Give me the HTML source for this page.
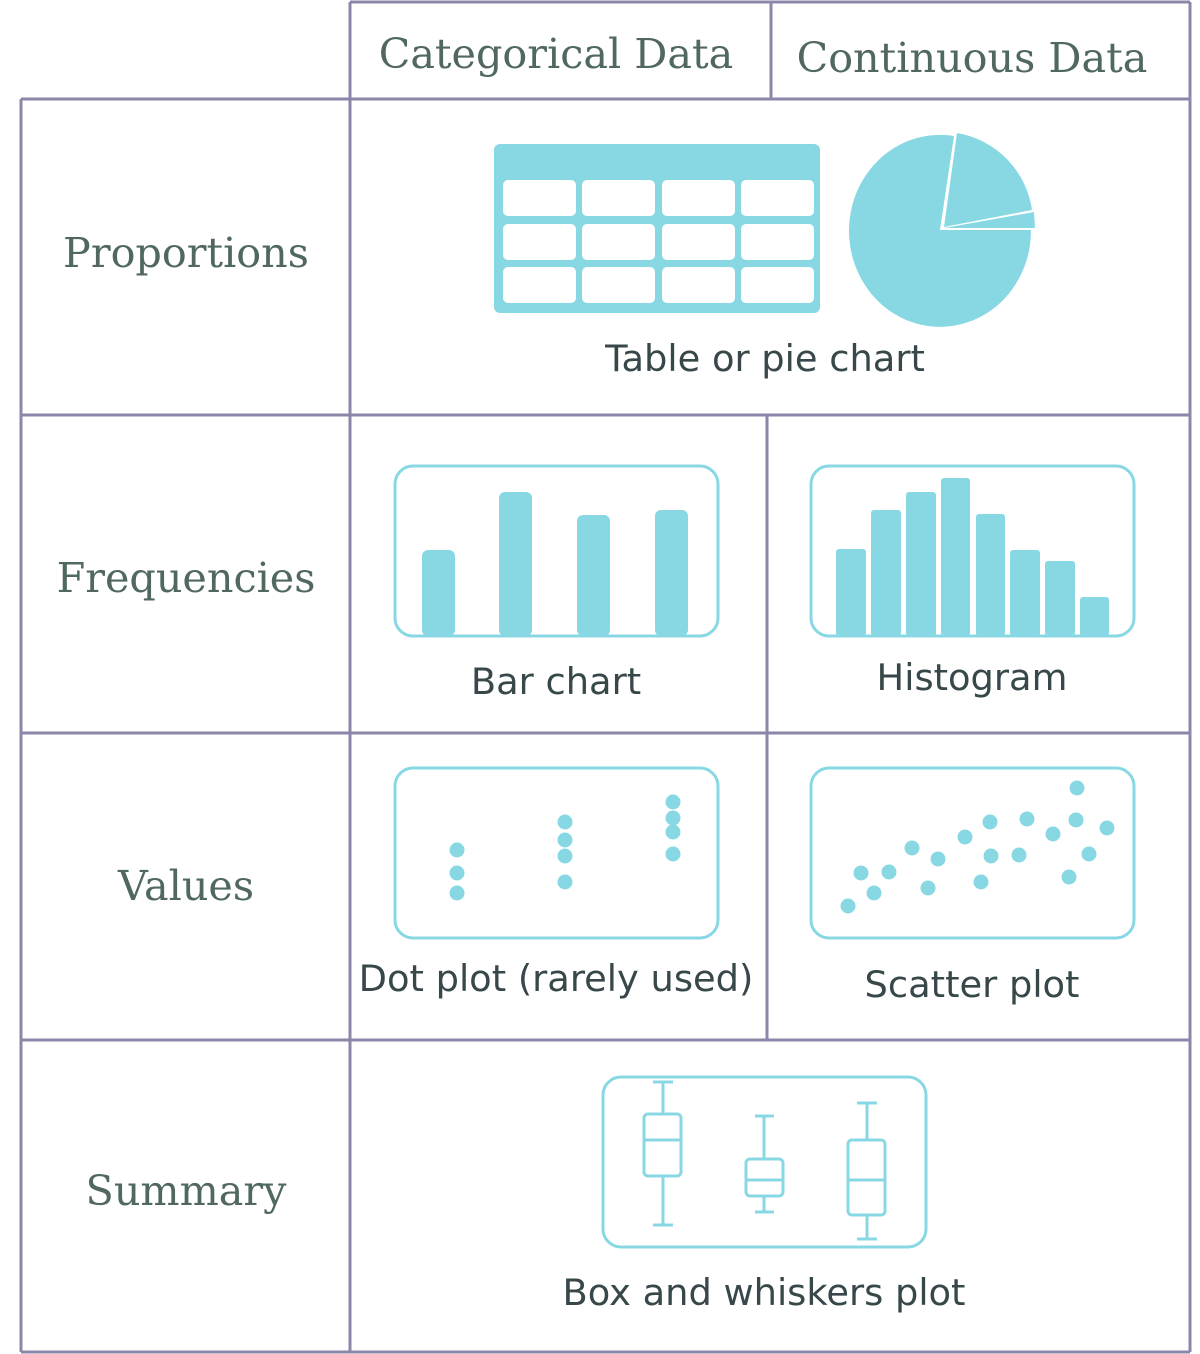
<!DOCTYPE html>
<html><head><meta charset="utf-8"><style>html,body{margin:0;padding:0;background:#fff}svg{display:block}</style></head>
<body>
<svg width="1200" height="1354" viewBox="0 0 1200 1354" xmlns="http://www.w3.org/2000/svg">
<g stroke="#8a87a8" stroke-width="3" fill="none">
<line x1="350" y1="2" x2="1190" y2="2"/>
<line x1="350" y1="2" x2="350" y2="1352"/>
<line x1="771" y1="2" x2="771" y2="99"/>
<line x1="1190" y1="2" x2="1190" y2="1352"/>
<line x1="21" y1="99" x2="21" y2="1352"/>
<line x1="21" y1="99" x2="1190" y2="99"/>
<line x1="21" y1="415" x2="1190" y2="415"/>
<line x1="21" y1="733" x2="1190" y2="733"/>
<line x1="21" y1="1040" x2="1190" y2="1040"/>
<line x1="21" y1="1352" x2="1190" y2="1352"/>
<line x1="767" y1="415" x2="767" y2="1040"/>
</g>
<g font-family="'DejaVu Serif','Liberation Serif',serif" font-size="41.3" fill="#506860" text-anchor="middle">
<text x="556" y="68">Categorical Data</text>
<text x="972" y="72">Continuous Data</text>
<text x="186" y="267">Proportions</text>
<text x="186" y="592">Frequencies</text>
<text x="186" y="900">Values</text>
<text x="186" y="1205">Summary</text>
</g>
<g font-family="'DejaVu Sans','Liberation Sans',sans-serif" font-size="36.8" fill="#37474a" text-anchor="middle">
<text x="765" y="371">Table or pie chart</text>
<text x="556" y="694">Bar chart</text>
<text x="972" y="690">Histogram</text>
<text x="556" y="991">Dot plot (rarely used)</text>
<text x="972" y="997">Scatter plot</text>
<text x="764" y="1305">Box and whiskers plot</text>
</g>
<g fill="#88d8e4">
<rect x="494" y="144" width="326" height="169" rx="6"/>
</g>
<g fill="#fff">
<rect x="503" y="180" width="73" height="36" rx="5"/><rect x="582" y="180" width="73" height="36" rx="5"/><rect x="662" y="180" width="73" height="36" rx="5"/><rect x="741" y="180" width="73" height="36" rx="5"/>
<rect x="503" y="224" width="73" height="36" rx="5"/><rect x="582" y="224" width="73" height="36" rx="5"/><rect x="662" y="224" width="73" height="36" rx="5"/><rect x="741" y="224" width="73" height="36" rx="5"/>
<rect x="503" y="267" width="73" height="36" rx="5"/><rect x="582" y="267" width="73" height="36" rx="5"/><rect x="662" y="267" width="73" height="36" rx="5"/><rect x="741" y="267" width="73" height="36" rx="5"/>
</g>
<g fill="#88d8e4">
<path d="M940,230 L1031,230 A91,96 0 1,1 954,136 Z"/>
<path d="M944,227 L957,133 A91,91 0 0,1 1032,210 Z"/>
<path d="M944,228 L1034,212 L1035,228 Z"/>
</g>
<g fill="none" stroke="#88d8e4" stroke-width="3">
<rect x="395" y="466" width="323" height="170" rx="18"/>
<rect x="811" y="466" width="323" height="170" rx="18"/>
<rect x="395" y="768" width="323" height="170" rx="18"/>
<rect x="811" y="768" width="323" height="170" rx="18"/>
<rect x="603" y="1077" width="323" height="170" rx="18"/>
</g>
<g fill="#88d8e4">
<rect x="422" y="550" width="33" height="86" rx="6"/>
<rect x="499" y="492" width="33" height="144" rx="6"/>
<rect x="577" y="515" width="33" height="121" rx="6"/>
<rect x="655" y="510" width="33" height="126" rx="6"/>
<rect x="836" y="549" width="30" height="87" rx="3"/>
<rect x="871" y="510" width="30" height="126" rx="3"/>
<rect x="906" y="492" width="30" height="144" rx="3"/>
<rect x="941" y="478" width="29" height="158" rx="3"/>
<rect x="976" y="514" width="29" height="122" rx="3"/>
<rect x="1010" y="550" width="30" height="86" rx="3"/>
<rect x="1045" y="561" width="30" height="75" rx="3"/>
<rect x="1080" y="597" width="29" height="39" rx="3"/>
<circle cx="457" cy="850" r="7.5"/><circle cx="457" cy="873" r="7.5"/><circle cx="457" cy="893" r="7.5"/>
<circle cx="565" cy="822" r="7.5"/><circle cx="565" cy="840" r="7.5"/><circle cx="565" cy="856" r="7.5"/><circle cx="565" cy="882" r="7.5"/>
<circle cx="673" cy="802" r="7.5"/><circle cx="673" cy="818" r="7.5"/><circle cx="673" cy="832" r="7.5"/><circle cx="673" cy="854" r="7.5"/>
<circle cx="848" cy="906" r="7.5"/><circle cx="861" cy="873" r="7.5"/><circle cx="874" cy="893" r="7.5"/><circle cx="889" cy="872" r="7.5"/>
<circle cx="912" cy="848" r="7.5"/><circle cx="928" cy="888" r="7.5"/><circle cx="938" cy="859" r="7.5"/><circle cx="965" cy="837" r="7.5"/>
<circle cx="981" cy="882" r="7.5"/><circle cx="990" cy="822" r="7.5"/><circle cx="991" cy="856" r="7.5"/><circle cx="1019" cy="855" r="7.5"/>
<circle cx="1027" cy="819" r="7.5"/><circle cx="1053" cy="834" r="7.5"/><circle cx="1069" cy="877" r="7.5"/><circle cx="1077" cy="788" r="7.5"/>
<circle cx="1076" cy="820" r="7.5"/><circle cx="1089" cy="854" r="7.5"/><circle cx="1107" cy="828" r="7.5"/>
</g>
<g fill="none" stroke="#88d8e4" stroke-width="3">
<line x1="663" y1="1082" x2="663" y2="1114"/><line x1="653" y1="1082" x2="673" y2="1082"/>
<rect x="644" y="1114" width="37" height="62" rx="4"/><line x1="644" y1="1140" x2="681" y2="1140"/>
<line x1="663" y1="1176" x2="663" y2="1225"/><line x1="653" y1="1225" x2="673" y2="1225"/>
<line x1="764" y1="1116" x2="764" y2="1159"/><line x1="755" y1="1116" x2="774" y2="1116"/>
<rect x="746" y="1159" width="37" height="37" rx="4"/><line x1="746" y1="1180" x2="783" y2="1180"/>
<line x1="764" y1="1196" x2="764" y2="1212"/><line x1="755" y1="1212" x2="774" y2="1212"/>
<line x1="867" y1="1103" x2="867" y2="1140"/><line x1="857" y1="1103" x2="877" y2="1103"/>
<rect x="848" y="1140" width="37" height="75" rx="4"/><line x1="848" y1="1180" x2="885" y2="1180"/>
<line x1="867" y1="1215" x2="867" y2="1239"/><line x1="857" y1="1239" x2="877" y2="1239"/>
</g>
</svg>
</body></html>
